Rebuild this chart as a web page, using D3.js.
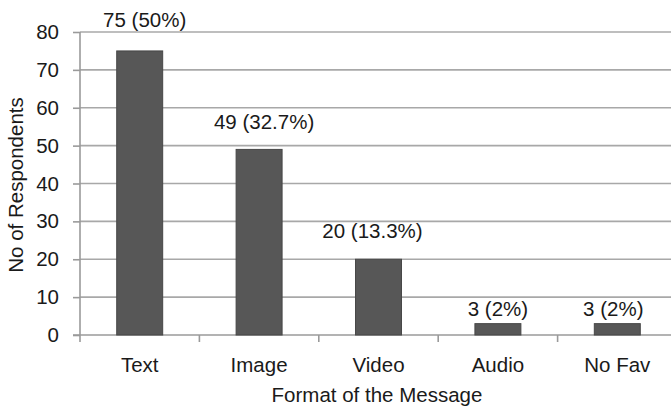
<!DOCTYPE html>
<html>
<head>
<meta charset="utf-8">
<script src="https://cdn.jsdelivr.net/npm/d3@7"></script>
<style>
  html, body { margin: 0; padding: 0; background: #fff; }
  svg { display: block; }
  text { font-family: "Liberation Sans", Arial, sans-serif; fill: #1a1a1a; }
</style>
</head>
<body>
<svg id="chart" width="671" height="410"></svg>
<script>
// Favourite message format among respondents
const formats = ["Text", "Image", "Video", "Audio", "No Fav"];
const respondents = [75, 49, 20, 3, 3];
const shares = ["50%", "32.7%", "13.3%", "2%", "2%"];
const yTicks = [0, 10, 20, 30, 40, 50, 60, 70, 80];

const svg = d3.select("#chart");
const plotLeft = 80, plotRight = 677, plotTop = 32, plotBottom = 335;

const x = d3.scaleBand().domain(formats).range([plotLeft, plotRight]);
const y = d3.scaleLinear().domain([0, 80]).range([plotBottom, plotTop]);

const gridColor = "#a8a8a8";
const axisColor = "#9a9a9a";
const fontSize = 20.5;

// horizontal gridlines
svg.append("g")
  .selectAll("line")
  .data(yTicks.filter(d => d > 0))
  .join("line")
  .attr("x1", plotLeft).attr("x2", plotRight)
  .attr("y1", d => y(d)).attr("y2", d => y(d))
  .attr("stroke", gridColor).attr("stroke-width", 1.6);

// y axis
const yAxis = svg.append("g")
  .attr("transform", `translate(${plotLeft},0)`)
  .call(d3.axisLeft(y).tickValues(yTicks).tickSize(7).tickPadding(14));
yAxis.select(".domain").remove();
yAxis.selectAll(".tick line").attr("stroke", axisColor).attr("stroke-width", 1.6);
yAxis.selectAll(".tick text")
  .attr("font-size", fontSize)
  .attr("font-family", "Liberation Sans, Arial, sans-serif")
  .attr("fill", "#1a1a1a");
svg.append("line")
  .attr("x1", plotLeft).attr("x2", plotLeft)
  .attr("y1", plotTop).attr("y2", plotBottom + 7)
  .attr("stroke", axisColor).attr("stroke-width", 1.6);

// x axis baseline with ticks at category boundaries
svg.append("line")
  .attr("x1", plotLeft - 7).attr("x2", plotRight)
  .attr("y1", plotBottom).attr("y2", plotBottom)
  .attr("stroke", axisColor).attr("stroke-width", 1.6);
svg.append("g")
  .selectAll("line")
  .data(formats.slice(1))
  .join("line")
  .attr("x1", d => x(d)).attr("x2", d => x(d))
  .attr("y1", plotBottom).attr("y2", plotBottom + 7)
  .attr("stroke", axisColor).attr("stroke-width", 1.6);

// category labels
svg.append("g")
  .selectAll("text")
  .data(formats)
  .join("text")
  .attr("x", d => x(d) + x.bandwidth() / 2)
  .attr("y", 372)
  .attr("text-anchor", "middle")
  .attr("font-size", fontSize)
  .text(d => d);

// bars
const barW = x.bandwidth() * 0.385;
svg.append("g")
  .selectAll("rect")
  .data(formats)
  .join("rect")
  .attr("x", d => x(d) + x.bandwidth() / 2 - barW / 2)
  .attr("y", (d, i) => y(respondents[i]))
  .attr("width", barW)
  .attr("height", (d, i) => y(0) - y(respondents[i]))
  .attr("fill", "#575757")
  .attr("stroke", "#474747")
  .attr("stroke-width", 1);

// value labels, lifted above each bar
const lift = [24, 20, 21, 8, 8];
const shiftX = [5, 5, -6, 0, -4];
svg.append("g")
  .selectAll("text")
  .data(formats)
  .join("text")
  .attr("x", (d, i) => x(d) + x.bandwidth() / 2 + shiftX[i])
  .attr("y", (d, i) => y(respondents[i]) - lift[i])
  .attr("text-anchor", "middle")
  .attr("font-size", fontSize)
  .text((d, i) => `${respondents[i]} (${shares[i]})`);

// axis titles
svg.append("text")
  .attr("transform", "translate(23,185) rotate(-90)")
  .attr("text-anchor", "middle")
  .attr("font-size", fontSize)
  .text("No of Respondents");

svg.append("text")
  .attr("x", 377)
  .attr("y", 402)
  .attr("text-anchor", "middle")
  .attr("font-size", fontSize)
  .text("Format of the Message");
</script>
</body>
</html>
